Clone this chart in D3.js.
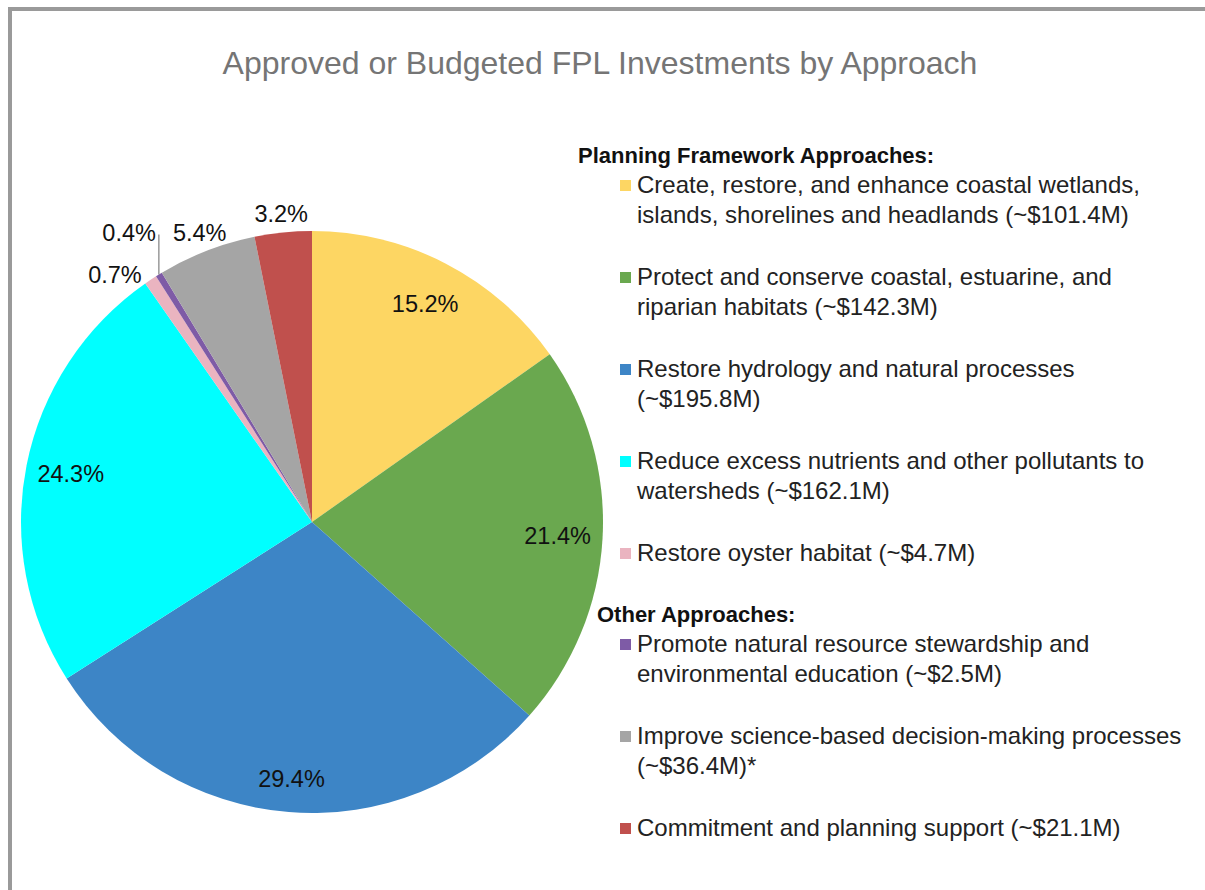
<!DOCTYPE html>
<html>
<head>
<meta charset="utf-8">
<script src="https://cdn.jsdelivr.net/npm/d3@7"></script>
<style>
  body { margin: 0; background: #fff; }
  svg text { font-family: "Liberation Sans", Arial, sans-serif; }
</style>
</head>
<body>
<svg id="chart" width="1205" height="890"></svg>
<script>
// data ($M)
var approaches = [
  "Create, restore, and enhance coastal wetlands, islands, shorelines and headlands",
  "Protect and conserve coastal, estuarine, and riparian habitats",
  "Restore hydrology and natural processes",
  "Reduce excess nutrients and other pollutants to watersheds",
  "Restore oyster habitat",
  "Promote natural resource stewardship and environmental education",
  "Improve science-based decision-making processes",
  "Commitment and planning support"
];
var amounts = [101.4, 142.3, 195.8, 162.1, 4.7, 2.5, 36.4, 21.1];
var shares = ["15.2%", "21.4%", "29.4%", "24.3%", "0.7%", "0.4%", "5.4%", "3.2%"];
var groups = ["Planning", "Planning", "Planning", "Planning", "Planning", "Other", "Other", "Other"];
var groupTitles = ["Planning Framework Approaches:", "Other Approaches:"];
// legend text, already wrapped like the original
var legendLines = [
  ["Create, restore, and enhance coastal wetlands,", "islands, shorelines and headlands (~$101.4M)"],
  ["Protect and conserve coastal, estuarine, and", "riparian habitats (~$142.3M)"],
  ["Restore hydrology and natural processes", "(~$195.8M)"],
  ["Reduce excess nutrients and other pollutants to", "watersheds (~$162.1M)"],
  ["Restore oyster habitat (~$4.7M)"],
  ["Promote natural resource stewardship and", "environmental education (~$2.5M)"],
  ["Improve science-based decision-making processes", "(~$36.4M)*"],
  ["Commitment and planning support (~$21.1M)"]
];
var colors = ["#fdd663", "#6aa84f", "#3d85c6", "#00ffff", "#eab4c0", "#7e5ba6", "#a5a5a5", "#c0504d"];

var svg = d3.select("#chart");

// frame (only top and left edges show in the original crop)
svg.append("path")
  .attr("d", "M10,890 L10,9 L1205,9")
  .attr("fill", "none")
  .attr("stroke", "#9a9a9a")
  .attr("stroke-width", 4);

svg.append("text")
  .attr("x", 600)
  .attr("y", 74)
  .attr("text-anchor", "middle")
  .attr("fill", "#757575")
  .style("font-size", "32px")
  .text("Approved or Budgeted FPL Investments by Approach");

var cx = 312, cy = 522, R = 291;
var g = svg.append("g").attr("transform", "translate(" + cx + "," + cy + ")");

var pie = d3.pie().sort(null).value(function(d){ return d; });
var arcs = pie(amounts);
var arc = d3.arc().innerRadius(0).outerRadius(R);

g.selectAll("path.slice")
  .data(arcs)
  .enter().append("path")
  .attr("class", "slice")
  .attr("d", arc)
  .attr("fill", function(d, i){ return colors[i]; });

function pointAt(a, r){
  return [Math.sin(a) * r, -Math.cos(a) * r];
}
function mid(d){ return (d.startAngle + d.endAngle) / 2; }

var labelSize = "23.5px";
// labels: big slices inside, small ones outside
arcs.forEach(function(d, i){
  var a = mid(d);
  var share = d.value / d3.sum(amounts);
  if (share > 0.1) {
    var p = pointAt(a, i === 2 ? 258 : 246);
    g.append("text")
      .attr("x", p[0]).attr("y", p[1]).attr("dy", "0.35em")
      .attr("text-anchor", "middle")
      .style("font-size", labelSize)
      .attr("fill", "#111")
      .text(shares[i]);
  } else if (groups[i] === "Other" && share < 0.01) {
    // tiny slice gets a leader line going straight up
    var p0 = pointAt(a, R);
    var p1 = [p0[0], p0[1] - 40];
    g.append("line")
      .attr("x1", p0[0]).attr("y1", p0[1])
      .attr("x2", p1[0]).attr("y2", p1[1])
      .attr("stroke", "#666").attr("stroke-width", 1);
    g.append("text")
      .attr("x", p1[0] - 3).attr("y", p1[1] + 6)
      .attr("text-anchor", "end")
      .style("font-size", labelSize)
      .attr("fill", "#111")
      .text(shares[i]);
  } else if (share < 0.01) {
    var q = pointAt(a, R + 16);
    g.append("text")
      .attr("x", q[0]).attr("y", q[1] + 8).attr("dy", "0.35em")
      .attr("text-anchor", "end")
      .style("font-size", labelSize)
      .attr("fill", "#111")
      .text(shares[i]);
  } else {
    var q2 = pointAt(a, R + 19);
    g.append("text")
      .attr("x", q2[0]).attr("y", q2[1]).attr("dy", "0.35em")
      .attr("text-anchor", "middle")
      .style("font-size", labelSize)
      .attr("fill", "#111")
      .text(shares[i]);
  }
});

// legend
var legend = svg.append("g");
var lineGap = 30, itemGap = 92;
var y = 163;
groupTitles.forEach(function(title, gi){
  var key = gi === 0 ? "Planning" : "Other";
  legend.append("text")
    .attr("x", gi === 0 ? 578 : 597)
    .attr("y", y)
    .style("font-size", "22px")
    .style("font-weight", "bold")
    .attr("fill", "#111")
    .text(title);
  y += 30;
  approaches.forEach(function(name, i){
    if (groups[i] !== key) return;
    legend.append("rect")
      .attr("x", 620).attr("y", y - 13)
      .attr("width", 11).attr("height", 11)
      .attr("fill", colors[i]);
    legendLines[i].forEach(function(line, li){
      legend.append("text")
        .attr("x", 637)
        .attr("y", y + li * lineGap)
        .style("font-size", "24px")
        .attr("fill", "#222")
        .text(line);
    });
    y += itemGap;
  });
  y -= 31;
});
</script>
</body>
</html>
